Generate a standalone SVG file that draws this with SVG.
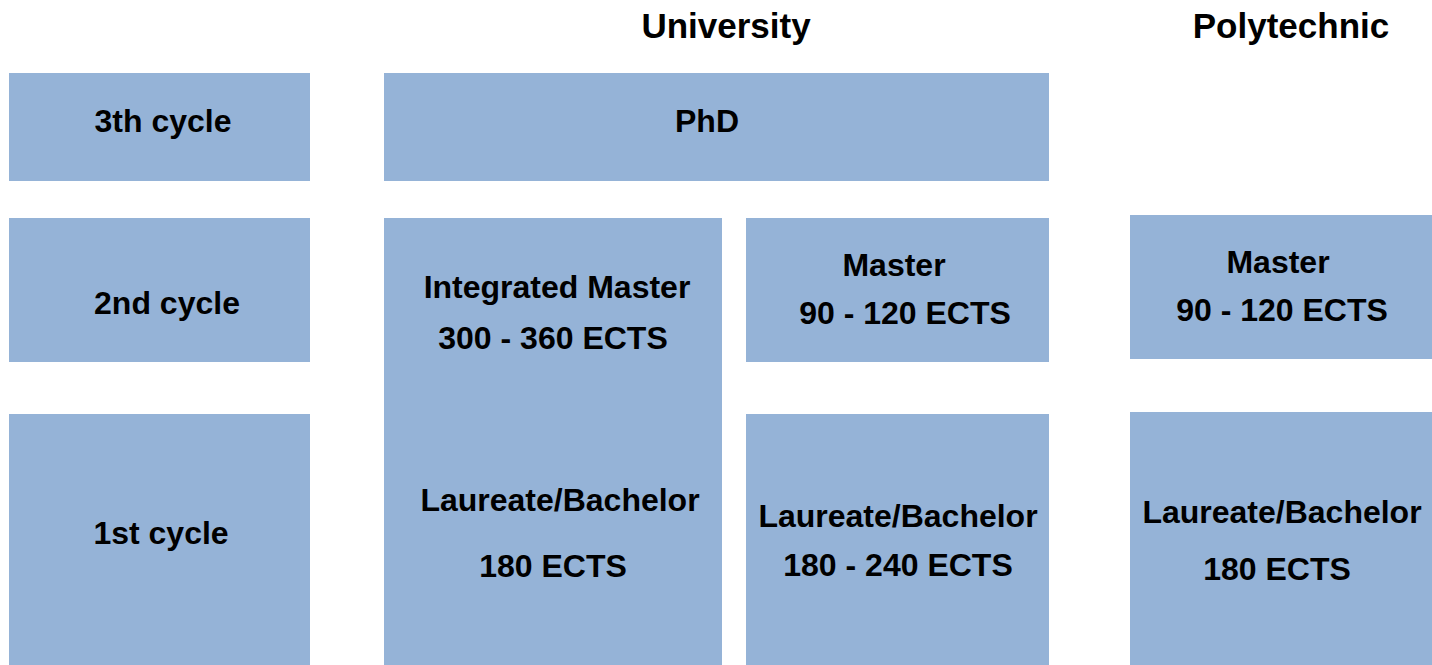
<svg xmlns="http://www.w3.org/2000/svg" width="1432" height="665" viewBox="0 0 1432 665">
<style>
rect{fill:#95B3D7}
text{font-family:"Liberation Sans",Arial,sans-serif;font-weight:bold;font-size:32px;fill:#000;text-anchor:middle}
.h{font-size:35px}
</style>
<rect x="0" y="0" width="1432" height="665" style="fill:#fff"/>
<g id="header-university"><text class="h" x="726" y="38">University</text></g>
<g id="header-polytechnic"><text class="h" x="1291" y="38">Polytechnic</text></g>
<g id="cycle3"><rect x="9" y="73" width="301" height="108"/><text x="163" y="132">3th cycle</text></g>
<g id="phd"><rect x="384" y="73" width="665" height="108"/><text x="707" y="132">PhD</text></g>
<g id="cycle2"><rect x="9" y="218" width="301" height="144"/><text x="167" y="314">2nd cycle</text></g>
<g id="integrated"><rect x="384" y="218" width="338" height="447"/>
<text x="557" y="298">Integrated Master</text>
<text x="553" y="349">300 - 360 ECTS</text>
<text x="560" y="511">Laureate/Bachelor</text>
<text x="553" y="577">180 ECTS</text></g>
<g id="uni-master"><rect x="746" y="218" width="303" height="144"/>
<text x="894" y="276">Master</text>
<text x="905" y="324">90 - 120 ECTS</text></g>
<g id="poly-master"><rect x="1130" y="215" width="302" height="144"/>
<text x="1278" y="273">Master</text>
<text x="1282" y="321">90 - 120 ECTS</text></g>
<g id="cycle1"><rect x="9" y="414" width="301" height="251"/><text x="161" y="544">1st cycle</text></g>
<g id="uni-bachelor"><rect x="746" y="414" width="303" height="251"/>
<text x="898" y="527">Laureate/Bachelor</text>
<text x="898" y="576">180 - 240 ECTS</text></g>
<g id="poly-bachelor"><rect x="1130" y="412" width="302" height="253"/>
<text x="1282" y="523">Laureate/Bachelor</text>
<text x="1277" y="580">180 ECTS</text></g>
<g id="connectors"></g>
</svg>
